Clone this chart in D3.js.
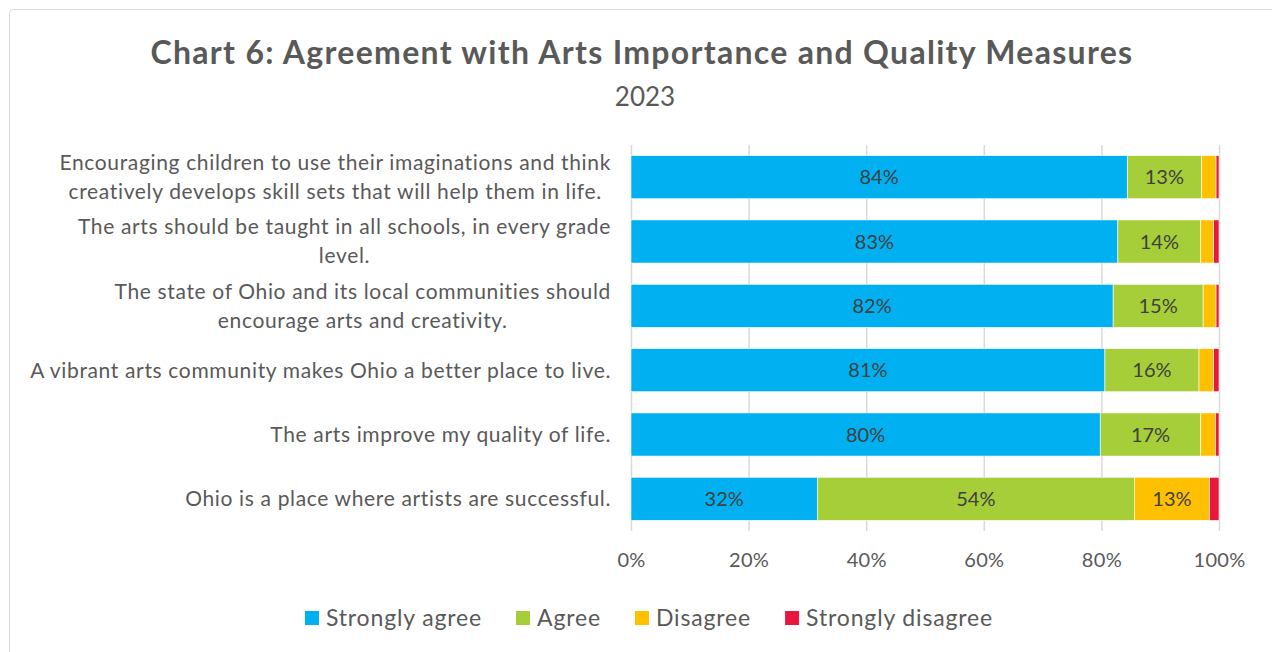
<!DOCTYPE html>
<html>
<head>
<meta charset="utf-8">
<script src="https://cdn.jsdelivr.net/npm/d3@7"></script>
<style>
  html, body { margin: 0; padding: 0; background: #fff; }
  svg { display: block; font-family: Lato, "Open Sans", sans-serif; }
</style>
</head>
<body>
<svg id="chart" width="1272" height="652"></svg>
<script>
// Survey statements (line breaks as wrapped in the chart)
const categories = [
  "Encouraging children to use their imaginations and think\ncreatively develops skill sets that will help them in life.",
  "The arts should be taught in all schools, in every grade\nlevel.",
  "The state of Ohio and its local communities should\nencourage arts and creativity.",
  "A vibrant arts community makes Ohio a better place to live.",
  "The arts improve my quality of life.",
  "Ohio is a place where artists are successful."
];

// Share of respondents (%) per response
const stronglyAgree    = [84.4, 82.8, 82.0, 80.6, 79.8, 31.7];
const agree            = [12.6, 14.1, 15.3, 16.0, 17.1, 53.9];
const disagree         = [ 2.5,  2.2,  2.2,  2.5,  2.5, 12.8];
const stronglyDisagree = [ 0.5,  0.9,  0.5,  0.9,  0.6,  1.6];

const seriesNames  = ["Strongly agree", "Agree", "Disagree", "Strongly disagree"];
const seriesColors = ["#00B0F0", "#A6CE39", "#FFC000", "#E8173C"];
const xTicks = [0, 0.2, 0.4, 0.6, 0.8, 1.0];

const titleText = "Chart 6: Agreement with Arts Importance and Quality Measures";
const subtitleText = "2023";

const W = 1272, H = 652;
const svg = d3.select("#chart");

svg.append("rect").attr("width", W).attr("height", H).attr("fill", "#fff");
// chart frame (only its top-left edge falls within the view)
svg.append("rect")
  .attr("x", 9.5).attr("y", 9.5).attr("width", W + 20).attr("height", H + 20)
  .attr("rx", 4).attr("fill", "none").attr("stroke", "#d9d9d9");

const plot = { left: 631, right: 1219, top: 145, bottom: 531 };

const rows = categories.map((c, i) => ({
  category: c,
  "Strongly agree": stronglyAgree[i] / 100,
  "Agree": agree[i] / 100,
  "Disagree": disagree[i] / 100,
  "Strongly disagree": stronglyDisagree[i] / 100
}));

const x = d3.scaleLinear().domain([0, 1]).range([plot.left, plot.right]);
const y = d3.scaleBand().domain(categories).range([plot.top, plot.bottom])
  .paddingInner(0.33).paddingOuter(0.165);
const color = d3.scaleOrdinal().domain(seriesNames).range(seriesColors);

// Title
svg.append("text")
  .attr("x", 642).attr("y", 64)
  .attr("text-anchor", "middle")
  .attr("font-size", 32).attr("font-weight", 700).attr("fill", "#595959")
  .attr("letter-spacing", 1.3)
  .text(titleText);
svg.append("text")
  .attr("x", 645).attr("y", 106)
  .attr("text-anchor", "middle")
  .attr("font-size", 26).attr("fill", "#595959")
  .text(subtitleText);

// Vertical gridlines
svg.append("g")
  .selectAll("line").data(xTicks).join("line")
  .attr("x1", d => x(d) + 0.5).attr("x2", d => x(d) + 0.5)
  .attr("y1", plot.top).attr("y2", plot.bottom)
  .attr("stroke", "#d9d9d9").attr("stroke-width", 1.5);

// X axis labels
const xAxis = d3.axisBottom(x).tickValues(xTicks).tickFormat(d3.format(".0%")).tickSize(0).tickPadding(22);
const gx = svg.append("g").attr("transform", `translate(0,${plot.bottom})`).call(xAxis);
gx.select(".domain").remove();
gx.selectAll("text").attr("font-size", 20).attr("fill", "#595959")
  .attr("font-family", "Lato, sans-serif").attr("letter-spacing", 0.3);

// Stacked bars
const stack = d3.stack().keys(seriesNames);
const layers = stack(rows);

const layerG = svg.append("g").selectAll("g").data(layers).join("g")
  .attr("fill", d => color(d.key));

layerG.selectAll("rect").data(d => d).join("rect")
  .attr("x", d => x(d[0]))
  .attr("width", d => x(d[1]) - x(d[0]))
  .attr("y", d => y(d.data.category))
  .attr("height", y.bandwidth())
  .attr("stroke", "#ffffff").attr("stroke-width", 0.6);

// Value labels inside segments
const labelG = svg.append("g");
layers.forEach(layer => {
  layer.forEach(d => {
    const v = d[1] - d[0];
    if (v < 0.05) return;
    labelG.append("text")
      .attr("x", (x(d[0]) + x(d[1])) / 2)
      .attr("y", y(d.data.category) + y.bandwidth() / 2)
      .attr("dy", "0.35em")
      .attr("text-anchor", "middle")
      .attr("font-size", 20).attr("fill", "#404040")
      .text(Math.round(v * 100) + "%");
  });
});

// Category labels: block right-aligned to the axis, lines centred in the block
const catG = svg.append("g");
const lineH = 29;
categories.forEach(c => {
  const lines = c.split("\n");
  const g = catG.append("g");
  const texts = lines.map((ln, j) => g.append("text")
    .attr("y", y(c) + y.bandwidth() / 2 + (j - (lines.length - 1) / 2) * lineH)
    .attr("dy", "0.35em")
    .attr("text-anchor", "middle")
    .attr("font-size", 21).attr("fill", "#595959")
    .attr("letter-spacing", 0.65)
    .text(ln));
  const blockW = d3.max(texts, t => t.node().getComputedTextLength());
  texts.forEach(t => t.attr("x", plot.left - 20 - blockW / 2));
});

// Legend
const legendG = svg.append("g");
let lx = 0;
seriesNames.forEach(name => {
  const g = legendG.append("g").attr("transform", `translate(${lx},0)`);
  g.append("rect").attr("x", 0).attr("y", -7).attr("width", 14).attr("height", 14).attr("fill", color(name));
  const t = g.append("text").attr("x", 21).attr("dy", "0.35em")
    .attr("font-size", 23).attr("fill", "#595959").attr("letter-spacing", 0.85).text(name);
  lx += 21 + t.node().getComputedTextLength() + 34;
});
const legendW = lx - 34;
legendG.attr("transform", `translate(${649 - legendW / 2},618)`);
</script>
</body>
</html>
